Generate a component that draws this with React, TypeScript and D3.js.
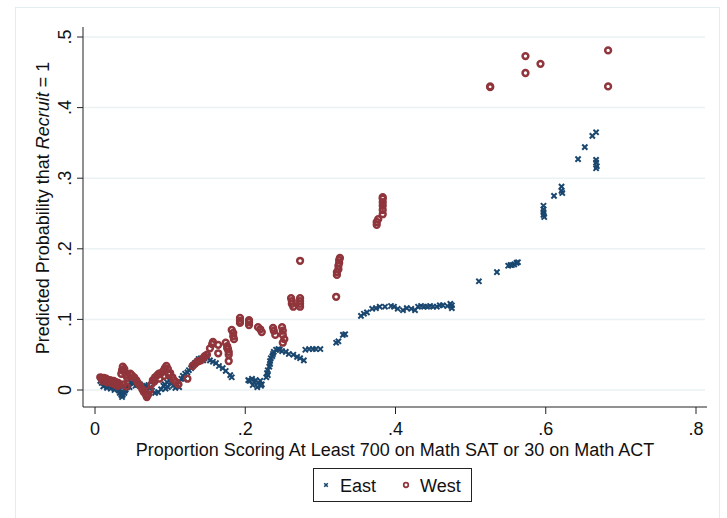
import * as d3 from "d3";

// predicted probability vs. share of strong math scorers
const EAST: [number, number][] = [
  [0.007, 0.013], [0.009, 0.010], [0.012, 0.011], [0.015, 0.007], [0.017, 0.008], [0.020, 0.006],
  [0.023, 0.007], [0.025, 0.004], [0.028, 0.006], [0.031, 0.003], [0.032, -0.001], [0.033, -0.004],
  [0.035, -0.007], [0.036, -0.010], [0.037, -0.007], [0.039, -0.004], [0.040, -0.001], [0.041, 0.001],
  [0.043, 0.004], [0.044, 0.007], [0.047, 0.010], [0.049, 0.011], [0.052, 0.013], [0.055, 0.010],
  [0.057, 0.007], [0.060, 0.008], [0.063, 0.004], [0.065, 0.001], [0.068, 0.006], [0.071, 0.007],
  [0.073, 0.003], [0.076, -0.001], [0.080, -0.004], [0.084, -0.003], [0.088, 0.001], [0.091, 0.006],
  [0.093, 0.008], [0.096, 0.011], [0.099, 0.014], [0.101, 0.010], [0.104, 0.006], [0.107, 0.003],
  [0.109, 0.007], [0.112, 0.011], [0.115, 0.016], [0.117, 0.020], [0.120, 0.023], [0.123, 0.025],
  [0.125, 0.028], [0.128, 0.031], [0.130, 0.035], [0.133, 0.038], [0.136, 0.041], [0.138, 0.044],
  [0.141, 0.045], [0.144, 0.042], [0.146, 0.045], [0.149, 0.048], [0.153, 0.042], [0.157, 0.040],
  [0.161, 0.038], [0.165, 0.034], [0.170, 0.031], [0.174, 0.027], [0.180, 0.021], [0.182, 0.018],
  [0.011, 0.005], [0.016, 0.003], [0.021, 0.002], [0.026, 0.000], [0.046, 0.004], [0.054, 0.006],
  [0.097, 0.004], [0.094, 0.002], [0.112, 0.004], [0.119, 0.016],
  [0.204, 0.014], [0.206, 0.013], [0.209, 0.016], [0.212, 0.011], [0.214, 0.014], [0.217, 0.010],
  [0.220, 0.013], [0.222, 0.008], [0.210, 0.007], [0.216, 0.004], [0.221, 0.006],
  [0.228, 0.018], [0.229, 0.024], [0.230, 0.028], [0.232, 0.033], [0.233, 0.037], [0.233, 0.041],
  [0.234, 0.045], [0.236, 0.048], [0.237, 0.051], [0.238, 0.054], [0.241, 0.057], [0.244, 0.058],
  [0.246, 0.057], [0.249, 0.055], [0.230, 0.021],
  [0.254, 0.054], [0.258, 0.051], [0.264, 0.050], [0.269, 0.047], [0.273, 0.045], [0.278, 0.042],
  [0.280, 0.057], [0.285, 0.058], [0.290, 0.058], [0.294, 0.058], [0.300, 0.058],
  [0.321, 0.067], [0.324, 0.069], [0.330, 0.078], [0.333, 0.079],
  [0.354, 0.105], [0.358, 0.108], [0.362, 0.110], [0.369, 0.115], [0.374, 0.116], [0.379, 0.118],
  [0.386, 0.118], [0.394, 0.119], [0.398, 0.118], [0.403, 0.115], [0.410, 0.113], [0.415, 0.116],
  [0.421, 0.115], [0.426, 0.113], [0.430, 0.118], [0.434, 0.119], [0.438, 0.118], [0.442, 0.118],
  [0.446, 0.119], [0.450, 0.118], [0.455, 0.118], [0.459, 0.120], [0.463, 0.120], [0.469, 0.119],
  [0.473, 0.122], [0.475, 0.120], [0.475, 0.116],
  [0.511, 0.154], [0.535, 0.167], [0.550, 0.176], [0.553, 0.177], [0.555, 0.177], [0.558, 0.178],
  [0.561, 0.180], [0.563, 0.181],
  [0.597, 0.261], [0.597, 0.256], [0.597, 0.252], [0.597, 0.248], [0.598, 0.245],
  [0.611, 0.275], [0.621, 0.288], [0.621, 0.282], [0.622, 0.279],
  [0.643, 0.327], [0.652, 0.344], [0.662, 0.360], [0.667, 0.365],
  [0.667, 0.326], [0.667, 0.322], [0.668, 0.317], [0.667, 0.314],
];

const WEST: [number, number][] = [
  [0.007, 0.018], [0.009, 0.017], [0.012, 0.017], [0.015, 0.016], [0.017, 0.014], [0.020, 0.014],
  [0.023, 0.013], [0.025, 0.013], [0.028, 0.011], [0.031, 0.010], [0.033, 0.008],
  [0.010, 0.013], [0.016, 0.011], [0.021, 0.010], [0.026, 0.008], [0.030, 0.006], [0.038, 0.008],
  [0.042, 0.005],
  [0.035, 0.023], [0.036, 0.028], [0.037, 0.033], [0.039, 0.030], [0.040, 0.025], [0.041, 0.021],
  [0.043, 0.017], [0.044, 0.020], [0.047, 0.023], [0.049, 0.021], [0.052, 0.018], [0.055, 0.014],
  [0.057, 0.010], [0.060, 0.006], [0.063, 0.001], [0.065, -0.003], [0.068, -0.007], [0.069, -0.010],
  [0.071, -0.006], [0.073, 0.000], [0.075, 0.008], [0.077, 0.014], [0.080, 0.018], [0.083, 0.021],
  [0.085, 0.023], [0.088, 0.024], [0.091, 0.027], [0.093, 0.031], [0.095, 0.034], [0.097, 0.030],
  [0.100, 0.024], [0.103, 0.018], [0.105, 0.014], [0.108, 0.011], [0.111, 0.008], [0.123, 0.016],
  [0.079, 0.012], [0.086, 0.016], [0.092, 0.020], [0.098, 0.022],
  [0.130, 0.034], [0.133, 0.037], [0.136, 0.040], [0.138, 0.041], [0.141, 0.042], [0.144, 0.045],
  [0.146, 0.048], [0.149, 0.050],
  [0.153, 0.059], [0.156, 0.065], [0.157, 0.068], [0.164, 0.064], [0.164, 0.052], [0.176, 0.059],
  [0.178, 0.041], [0.174, 0.067], [0.176, 0.062], [0.177, 0.058], [0.178, 0.054], [0.178, 0.050],
  [0.182, 0.085], [0.184, 0.081], [0.184, 0.076], [0.185, 0.072],
  [0.193, 0.102], [0.193, 0.098], [0.193, 0.095], [0.205, 0.099], [0.205, 0.096], [0.205, 0.092],
  [0.217, 0.089], [0.220, 0.086], [0.222, 0.082],
  [0.237, 0.088], [0.238, 0.084], [0.240, 0.078],
  [0.249, 0.089], [0.250, 0.084], [0.250, 0.078], [0.252, 0.072], [0.250, 0.067],
  [0.261, 0.130], [0.262, 0.126], [0.262, 0.122], [0.264, 0.118],
  [0.273, 0.130], [0.273, 0.126], [0.273, 0.122], [0.273, 0.118], [0.273, 0.183],
  [0.321, 0.132], [0.322, 0.163], [0.322, 0.167], [0.324, 0.171], [0.324, 0.176], [0.325, 0.180],
  [0.325, 0.184], [0.326, 0.187],
  [0.375, 0.234], [0.375, 0.238], [0.377, 0.242], [0.383, 0.249], [0.383, 0.255], [0.383, 0.261],
  [0.383, 0.266], [0.383, 0.271], [0.383, 0.273],
  [0.526, 0.429], [0.526, 0.430], [0.573, 0.473], [0.573, 0.449], [0.593, 0.462],
  [0.683, 0.481], [0.683, 0.430],
];

const X_TICKS = [0, 0.2, 0.4, 0.6, 0.8];
const Y_TICKS = [0, 0.1, 0.2, 0.3, 0.4, 0.5];

const EAST_COLOR = "#1a476f";
const WEST_COLOR = "#90353b";
const GRID = "#eaf2f3";
const FONT = "'Liberation Sans', Arial, Helvetica, sans-serif";

const fmt = (v: number) => (v === 0 ? "0" : d3.format(".1f")(v).replace(/^0/, ""));

const X_PATH = "M-2.6,-2.6L2.6,2.6M-2.6,2.6L2.6,-2.6";

export default function App() {
  const W = 727;
  const H = 518;
  const left = 83, right = 707, top = 27, bottom = 407;

  const x = d3.scaleLinear().domain([0, 0.8]).range([95, 696]);
  const y = d3.scaleLinear().domain([0, 0.5]).range([390, 37]);

  return (
    <div style={{ position: "absolute", left: 0, top: 0 }}>
      <svg width={W} height={H} style={{ display: "block", background: "#fff" }} fontFamily={FONT}>
        <rect x={15.5} y={7.5} width={704} height={520} fill="#fff" stroke="#e3ecee" />

        {Y_TICKS.map((t) => (
          <line key={`g${t}`} x1={left} x2={right - 2} y1={y(t)} y2={y(t)} stroke={GRID} strokeWidth={1.5} />
        ))}

        {/* axes */}
        <line x1={left} x2={left} y1={top} y2={bottom} stroke="#222" strokeWidth={1} />
        <line x1={left} x2={right} y1={bottom} y2={bottom} stroke="#222" strokeWidth={1} />

        {Y_TICKS.map((t) => (
          <g key={`y${t}`}>
            <line x1={left - 6} x2={left} y1={y(t)} y2={y(t)} stroke="#222" />
            <text
              transform={`translate(71,${y(t)}) rotate(-90)`}
              textAnchor="middle"
              fontSize={18}
              fill="#111"
            >
              {fmt(t)}
            </text>
          </g>
        ))}

        {X_TICKS.map((t) => (
          <g key={`x${t}`}>
            <line x1={x(t)} x2={x(t)} y1={bottom} y2={bottom + 7} stroke="#222" />
            <text x={x(t)} y={435} textAnchor="middle" fontSize={18} fill="#111">
              {fmt(t)}
            </text>
          </g>
        ))}

        <text x={395} y={456} textAnchor="middle" fontSize={18} fill="#111">
          Proportion Scoring At Least 700 on Math SAT or 30 on Math ACT
        </text>

        <text transform="translate(49,208) rotate(-90)" textAnchor="middle" fontSize={18} fill="#111">
          Predicted Probability that <tspan fontStyle="italic">Recruit</tspan> = 1
        </text>

        {/* markers */}
        <g stroke={EAST_COLOR} strokeWidth={2} fill="none">
          {EAST.map(([a, b], i) => (
            <path key={i} d={X_PATH} transform={`translate(${x(a)},${y(b)})`} />
          ))}
        </g>
        <g stroke={WEST_COLOR} strokeWidth={2.5} fill="none">
          {WEST.map(([a, b], i) => (
            <circle key={i} cx={x(a)} cy={y(b)} r={2.9} />
          ))}
        </g>

        {/* legend */}
        <rect x={313.5} y={468.5} width={158} height={33} fill="#fff" stroke="#222" />
        <path d="M-1.8,-1.8L1.8,1.8M-1.8,1.8L1.8,-1.8" transform="translate(326,485)" stroke={EAST_COLOR} strokeWidth={1.6} />
        <text x={340} y={492} fontSize={18} fill="#111">East</text>
        <circle cx={406} cy={485} r={2.3} fill="none" stroke={WEST_COLOR} strokeWidth={1.7} />
        <text x={420} y={492} fontSize={18} fill="#111">West</text>
      </svg>
    </div>
  );
}
